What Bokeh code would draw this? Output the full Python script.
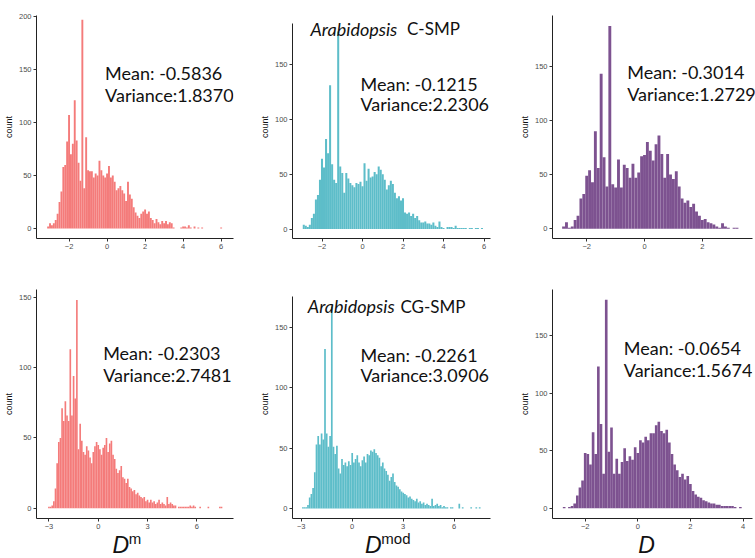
import numpy as np
from bokeh.plotting import figure
from bokeh.layouts import row, column
from bokeh.models import Label, FixedTicker, Div
from bokeh.embed import file_html
from bokeh.resources import INLINE

BIN = 0.1

# ---- data: histogram counts (bin centres start at *_start, step BIN) ----
dm_c_start = -3.1
dm_c_counts = [2, 5, 3, 5, 8, 14, 25, 35, 58, 60, 82, 107, 70, 80, 121, 83, 62, 45, 197, 38, 86, 55,
               54, 54, 48, 52, 50, 64, 55, 50, 48, 52, 59, 48, 50, 44, 36, 38, 40, 36, 33,
               26, 44, 32, 28, 20, 15, 12, 10, 14, 16,
               18, 14, 16, 10, 8, 5, 9, 6, 4, 7,
               5, 7, 4, 6, 5, 1, 0, 0, 0, 1,
               2, 2, 1, 3, 1, 0, 2, 0, 1, 0,
               1, 0, 0, 0, 0, 0, 0, 0, 0, 0,
               1]

dmod_c_start = -2.9
dmod_c_counts = [4, 3, 2, 4, 10, 14, 27, 31, 45, 64, 56, 82, 69, 131, 59, 45, 42, 180, 57, 51,
                 33, 51, 46, 42, 40, 38, 42, 41, 43, 39, 60, 44, 55, 47, 48, 52, 50, 57, 54,
                 50, 45, 36, 40, 44, 41, 33, 28, 30, 26,
                 28, 15, 14, 15, 12, 14, 10, 12, 8, 6,
                 6, 7, 5, 5, 4, 6, 3, 2, 7, 2,
                 1, 0, 2, 2, 2, 1, 3, 1, 1, 1,
                 1, 1, 0, 1, 1, 0, 1, 1, 0, 1]

d_c_start = -2.8
d_c_counts = [2, 6, 1, 2, 8, 12, 28, 32, 49, 54,
              43, 90, 56, 143, 66, 39, 187, 41, 38, 64,
              38, 59, 56, 47, 60, 47, 52, 67, 68, 80,
              72, 63, 78, 86, 69, 47, 69, 50, 46, 53,
              39, 28, 24, 26, 20, 23, 16, 12, 8, 9,
              6, 5, 4, 2, 1, 5, 2, 1, 0, 1, 1]

dm_cg_start = -3.0
dm_cg_counts = [1, 1, 2, 5, 14, 32, 47, 50, 71, 62,
                76, 66, 62, 113, 66, 94, 78, 148, 42, 60,
                48, 40, 38, 44, 41, 36, 32, 40, 44, 47,
                45, 42, 38, 43, 45, 50, 40, 46, 48, 38,
                35, 28, 25, 27, 30, 22, 21, 18, 21, 15,
                14, 12, 13, 10, 11, 9, 8, 7, 8, 5,
                6, 4, 6, 4, 5, 3, 4, 6, 3, 4,
                3, 2, 8, 3, 4, 3, 2, 2, 0, 1,
                1, 1, 1, 1, 1, 1, 2, 1, 2, 1,
                0, 0, 1, 0, 0, 0, 0, 1, 0, 0,
                0, 0, 0, 0, 1, 1]

dmod_cg_start = -2.9
dmod_cg_counts = [1, 1, 1, 3, 9, 12, 17, 30, 53, 60, 53, 62, 57, 132, 62, 51, 60, 167, 51, 45, 52, 33, 29, 41,
                  36, 38, 35, 39, 36, 46, 38, 41, 44, 38,
                  35, 40, 43, 38, 45, 44, 48, 47, 49, 46,
                  44, 42, 35, 38, 33, 31, 28, 23, 26, 29,
                  22, 19, 18, 16, 14, 13, 12, 11, 9, 10,
                  8, 7, 6, 8, 5, 6, 4, 5, 3, 4,
                  3, 2, 8, 2, 3, 4, 2, 3, 1, 2,
                  1, 1, 0, 1, 1, 0, 0, 0, 4, 0,
                  1, 0, 0, 0, 0, 1, 0, 0, 1, 0, 1]

d_cg_start = -2.8
d_cg_counts = [1, 0, 1, 2, 4, 11, 18, 24, 48, 47,
               38, 66, 47, 123, 73, 30, 181, 49, 70, 30,
               43, 30, 40, 52, 41, 45, 42, 53, 48, 59,
               57, 62, 59, 65, 65, 72, 75, 67, 65, 68,
               57, 47, 38, 33, 27, 30, 25, 28, 21, 15,
               12, 10, 9, 7, 6, 5, 4, 4, 3, 3,
               2, 2, 2, 2, 2, 1, 0, 1]

means = ["Mean: -0.5836", "Mean: -0.1215", "Mean: -0.3014",
         "Mean: -0.2303", "Mean: -0.2261", "Mean: -0.0654"]
variances = ["Variance:1.8370", "Variance:2.2306", "Variance:1.2729",
             "Variance:2.7481", "Variance:3.0906", "Variance:1.5674"]
titles_italic = ["Arabidopsis", "Arabidopsis"]
titles_plain = ["C-SMP", "CG-SMP"]
x_label_main = ["D", "D", "D"]
x_label_sup = ["m", "mod", ""]
y_label = "count"

x_ticks = [[-2, 0, 2, 4, 6], [-2, 0, 2, 4, 6], [-2, 0, 2],
           [-3, 0, 3, 6], [-3, 0, 3, 6], [-2, 0, 2, 4]]
y_ticks = [[0, 50, 100, 150, 200], [0, 50, 100, 150], [0, 50, 100, 150],
           [0, 50, 100, 150], [0, 50, 100, 150], [0, 50, 100, 150]]

RED = "#F47B7A"
TEAL = "#5DBDC9"
PURPLE = "#7D5290"

# ---- layout geometry (px) ----
COL_X = [0, 250, 500]
COL_W = [250, 250, 255]
ROW_Y = [0, 260]
ROW_H = [260, 272]
XLAB_H = 26

# per panel: frame (L, R, T, B), axis extent (right px, top px),
# scale (px of x=0, px per x unit, px of count 0, px per count)
panels = [
    dict(start=dm_c_start, counts=dm_c_counts, color=RED,
         frame=(32, 233, 15, 238), axis_end=(233, 15), scale=(104, 19.4, 228, 1.06),
         text=(102, 72.3, 94.8)),
    dict(start=dmod_c_start, counts=dmod_c_counts, color=TEAL,
         frame=(292, 490, 1, 238), axis_end=(490, 10), scale=(362, 20.25, 228, 1.167),
         text=(360, 73.3, 95.3), title=(310, 406.5, 15)),
    dict(start=d_c_start, counts=d_c_counts, color=PURPLE,
         frame=(552, 755, 9, 238), axis_end=(751.7, 9), scale=(644, 28.9, 228, 1.113),
         text=(626.7, 66.7, 90)),
    dict(start=dm_cg_start, counts=dm_cg_counts, color=RED,
         frame=(32, 233, 289, 518), axis_end=(233, 289), scale=(95, 16.77, 507.7, 1.406),
         text=(100, 352.3, 374.3)),
    dict(start=dmod_cg_start, counts=dmod_cg_counts, color=TEAL,
         frame=(292, 490, 282, 518), axis_end=(490, 289), scale=(351.7, 17.0, 507.7, 1.246),
         text=(360, 349, 370.5), title=(307.3, 400, 299.3)),
    dict(start=d_cg_start, counts=d_cg_counts, color=PURPLE,
         frame=(552, 752, 289, 518), axis_end=(752, 289), scale=(637.3, 26.3, 507.7, 1.152),
         text=(623.3, 347.3, 369.3)),
]

TEXT_FONT = "Lato"
TICK_FONT = "Liberation Sans"


def make(i):
    spec = panels[i]
    r, c = divmod(i, 3)
    W, H = COL_W[c], ROW_H[r]
    L, R, T, B = spec["frame"]
    zx, kx, zy, ky = spec["scale"]

    def dx(px):
        return (px - zx) / kx

    def dy(py):
        return (zy - py) / ky

    bl = L - COL_X[c]
    br = COL_X[c] + W - R
    bt = T - ROW_Y[r]
    bb = ROW_Y[r] + H - B

    x0, x1 = dx(L), dx(R)
    y0, y1 = dy(B), dy(T)

    p = figure(width=W, height=H, x_range=(x0, x1), y_range=(y0, y1),
               output_backend="svg", toolbar_location=None,
               min_border_left=bl, min_border_right=br,
               min_border_top=bt, min_border_bottom=bb)
    p.outline_line_color = None
    p.grid.visible = False
    p.background_fill_color = "white"
    p.border_fill_color = "white"

    counts = np.array(spec["counts"], dtype=float)
    centers = spec["start"] + BIN * np.arange(len(counts))
    p.vbar(x=centers, top=counts, bottom=0, width=BIN,
           fill_color=spec["color"], line_color=None)

    for ax in (p.xaxis[0], p.yaxis[0]):
        ax.axis_line_color = "#222222"
        ax.axis_line_width = 1
        ax.major_tick_line_color = "#333333"
        ax.major_tick_out = 3
        ax.major_tick_in = 0
        ax.minor_tick_line_color = None
        ax.major_label_text_font = TICK_FONT
        ax.major_label_text_font_size = "7.5px"
        ax.major_label_text_color = "#4D4D4D"
        ax.major_label_standoff = 2
    p.xaxis.ticker = FixedTicker(ticks=x_ticks[i])
    p.yaxis.ticker = FixedTicker(ticks=y_ticks[i])
    p.xaxis.bounds = (x0, dx(spec["axis_end"][0]))
    p.yaxis.bounds = (y0, dy(spec["axis_end"][1]))

    p.yaxis.axis_label = y_label
    p.yaxis.axis_label_text_font = TICK_FONT
    p.yaxis.axis_label_text_font_size = "9px"
    p.yaxis.axis_label_text_font_style = "normal"
    p.yaxis.axis_label_text_color = "#111111"
    p.yaxis.axis_label_standoff = 2

    tx, ty1, ty2 = spec["text"]
    p.add_layout(Label(x=dx(tx), y=dy(ty1), text=means[i], text_font=TEXT_FONT,
                       text_font_size="18px", text_color="#111111",
                       text_align="left", text_baseline="alphabetic"))
    p.add_layout(Label(x=dx(tx), y=dy(ty2), text=variances[i], text_font=TEXT_FONT,
                       text_font_size="18px", text_color="#111111",
                       text_align="left", text_baseline="alphabetic"))

    if "title" in spec:
        left1, left2, base = spec["title"]
        p.add_layout(Label(x=dx(left1), y=dy(base), text=titles_italic[r], text_font=TEXT_FONT,
                           text_font_style="italic", text_font_size="18px", text_color="#111111",
                           text_align="left", text_baseline="alphabetic"))
        p.add_layout(Label(x=dx(left2), y=dy(base), text=titles_plain[r],
                           text_font=TEXT_FONT, text_font_size="17px", text_color="#111111",
                           text_align="left", text_baseline="alphabetic"))
    return p


figs = [make(i) for i in range(6)]

# x-axis titles (italic D with upright superscript) as real HTML text
xlab_left = [112.5, 365, 638.3]
spans = []
for c in range(3):
    spans.append('<span style="position:absolute;left:%.1fpx;top:3px;font-size:23px;'
                 'line-height:20px;font-style:italic;">%s</span>' % (xlab_left[c], x_label_main[c]))
    if x_label_sup[c]:
        spans.append('<span style="position:absolute;left:%.1fpx;top:1.5px;font-size:15px;'
                     'line-height:10px;">%s</span>' % (xlab_left[c] + 16.3, x_label_sup[c]))
html = ('<div style="position:relative;width:755px;height:%dpx;overflow:visible;'
        'font-family:\'Liberation Sans\',Arial,sans-serif;color:#111111;">%s</div>'
        % (XLAB_H, "".join(spans)))
xdiv = Div(text=html, width=755, height=XLAB_H, margin=0)

layout = column(row(*figs[:3]), row(*figs[3:]), xdiv)

open("out.html", "w").write(file_html(layout, INLINE, "Arabidopsis SMP"))
